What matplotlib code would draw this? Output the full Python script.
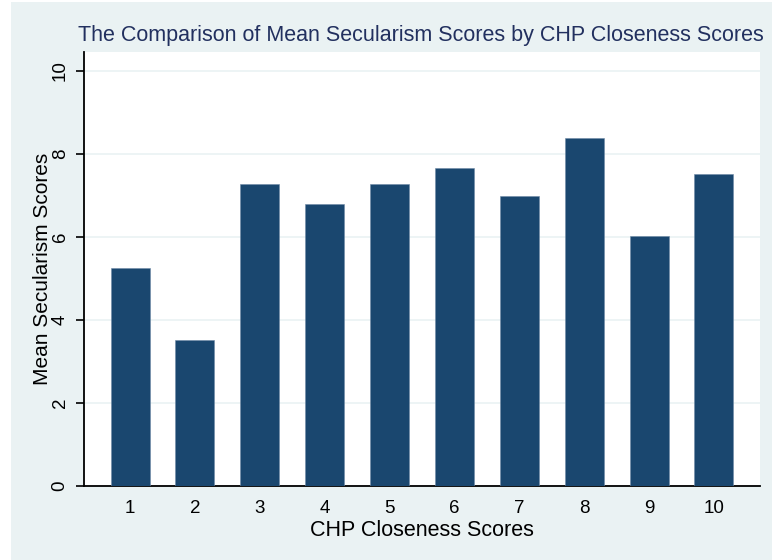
import matplotlib
matplotlib.use("Agg")
import matplotlib.pyplot as plt
from matplotlib.patches import Rectangle

# CHP closeness score categories and mean secularism score per category
closeness = [1, 2, 3, 4, 5, 6, 7, 8, 9, 10]
mean_secularism = [5.24, 3.51, 7.27, 6.79, 7.27, 7.66, 6.98, 8.38, 6.02, 7.52]
y_ticks = [0, 2, 4, 6, 8, 10]

BG = "#EAF2F3"
BAR = "#1A476F"

plt.rcParams["font.family"] = ["Liberation Sans", "DejaVu Sans"]

fig = plt.figure(figsize=(7.72, 5.6), dpi=100, facecolor="white")
fig.patches.append(Rectangle((11 / 772, 0), 1 - 11 / 772, 1 - 2 / 560,
                             transform=fig.transFigure, facecolor=BG,
                             edgecolor="none", zorder=-10))
ax = fig.add_axes([84 / 772, 74 / 560, 676 / 772, 434 / 560])
ax.set_facecolor("white")

ax.bar(closeness, mean_secularism, width=0.6, color=BAR,
       edgecolor="#6f8aa6", linewidth=0.4, zorder=3)

ax.set_xlim(0.29, 10.71)
ax.set_ylim(0, 10.45)
ax.set_yticks(y_ticks)
ax.set_yticklabels([str(t) for t in y_ticks], rotation=90, va="center")
ax.set_xticks(closeness)
ax.tick_params(axis="x", length=0, pad=10, labelsize=13.5)
ax.tick_params(axis="y", length=6, width=1.2, pad=5, labelsize=13.5)
ax.yaxis.grid(True, color=BG, linewidth=1.2, zorder=0)
ax.set_axisbelow(True)

for side in ("top", "right"):
    ax.spines[side].set_visible(False)
for side in ("left", "bottom"):
    ax.spines[side].set_linewidth(1.3)

ax.set_xlabel("CHP Closeness Scores", fontsize=15.5, labelpad=2)
ax.set_ylabel("Mean Secularism Scores", fontsize=15, labelpad=0)
fig.text(421 / 772, 1 - 35 / 560,
         "The Comparison of Mean Secularism Scores by CHP Closeness Scores",
         ha="center", va="center", fontsize=15.5, color="#22305f")

fig.savefig("out.png", dpi=100, facecolor="white")
